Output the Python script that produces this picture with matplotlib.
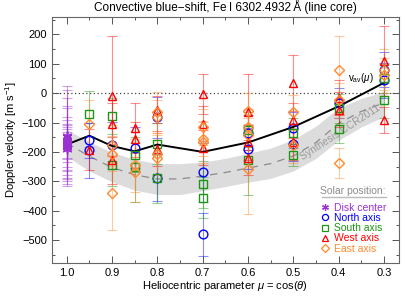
import matplotlib
matplotlib.use("Agg")
import matplotlib.pyplot as plt
from matplotlib.lines import Line2D
from matplotlib.ticker import MultipleLocator, FormatStrFormatter

plt.rcParams["font.family"] = ["Liberation Sans", "DejaVu Sans"]
plt.rcParams["mathtext.fontset"] = "custom"
plt.rcParams["mathtext.rm"] = "Liberation Sans"
plt.rcParams["mathtext.it"] = "Liberation Sans:italic"

# ---- synthesis band (CCR2011) ----
MU_SYN = [1.0, 0.95, 0.9, 0.85, 0.8, 0.75, 0.7, 0.65, 0.6, 0.55, 0.5, 0.45, 0.4, 0.35, 0.3]
SYN_MID = [-170, -215, -253, -278, -292, -292, -282, -270, -255, -240, -214, -168, -103, -62, -33]
SYN_HI = [-125, -165, -202, -225, -240, -240, -235, -222, -205, -187, -158, -112, -50, -18, 5]
SYN_LO = [-215, -265, -302, -330, -345, -345, -332, -318, -303, -290, -265, -222, -160, -115, -80]

# ---- average observed curve ----
MU_AV = [1.0, 0.95, 0.9, 0.85, 0.8, 0.7, 0.6, 0.5, 0.4, 0.3]
V_AV = [-175, -145, -180, -198, -175, -200, -168, -115, -45, 35]

# ---- observations ----
MU_DC = [1.0] * 12
V_DC = [-145, -150, -158, -165, -170, -175, -180, -185, -190, -172, -168, -178]
E_DC = [170, 160, 140, 115, 90, 60, 70, 80, 100, 50, 125, 45]

MU_N = [0.95, 0.95, 0.9, 0.85, 0.8, 0.8, 0.7, 0.7, 0.6, 0.6, 0.5, 0.5, 0.4, 0.3, 0.3]
V_N = [-160, -195, -178, -186, -82, -288, -269, -480, -135, -189, -118, -172, -34, 80, 43]
E_N = [60, 95, 80, 70, 70, 80, 100, 73, 60, 70, 55, 60, 50, 60, 60]

MU_S = [0.95, 0.9, 0.9, 0.85, 0.85, 0.8, 0.8, 0.7, 0.7, 0.6, 0.6, 0.5, 0.5, 0.4, 0.4, 0.3, 0.3]
V_S = [-70, -78, -246, -209, -252, -172, -288, -310, -356, -124, -227, -136, -210, -52, -121, 50, -25]
E_S = [77, 60, 70, 60, 120, 70, 85, 80, 70, 60, 120, 50, 38, 50, 50, 50, 60]

MU_W = [0.95, 0.9, 0.9, 0.9, 0.85, 0.85, 0.8, 0.8, 0.7, 0.7, 0.7, 0.6, 0.6, 0.6,
        0.5, 0.5, 0.5, 0.4, 0.4, 0.3, 0.3]
V_W = [-192, -10, -104, -229, -118, -157, -56, -189, -2, -104, -186, -64, -167, -220,
       33, -92, -168, -15, -57, 110, -92]
E_W = [70, 205, 70, 80, 85, 60, 45, 60, 68, 60, 60, 128, 60, 60,
       95, 60, 60, 60, 60, 120, 45]

MU_E = [0.95, 0.9, 0.9, 0.9, 0.85, 0.85, 0.8, 0.8, 0.8, 0.8, 0.7, 0.7, 0.7,
        0.6, 0.6, 0.6, 0.6, 0.5, 0.5, 0.4, 0.4, 0.4, 0.3, 0.3]
V_E = [-104, -178, -206, -340, -246, -269, -65, -82, -206, -220, -115, -155, -167,
       -61, -115, -144, -257, -65, -178, 80, -25, -238, 80, 60]
E_E = [80, 70, 60, 125, 90, 100, 70, 60, 70, 60, 60, 60, 70,
       60, 60, 60, 153, 60, 60, 115, 60, 52, 70, 60]

X_TICKS = [1.0, 0.9, 0.8, 0.7, 0.6, 0.5, 0.4, 0.3]

SERIES = [
    ("Disk center", MU_DC, V_DC, E_DC, "#9b30d0", (6, 2, 0)),
    ("North axis", MU_N, V_N, E_N, "#0000ff", "o"),
    ("South axis", MU_S, V_S, E_S, "#1e9614", "s"),
    ("West axis", MU_W, V_W, E_W, "#ff0000", "^"),
    ("East axis", MU_E, V_E, E_E, "#ff8a30", "D"),
]


def main():
    fig = plt.figure(figsize=(4.15, 2.97), dpi=100)
    ax = fig.add_axes([0.1246, 0.1145, 0.8368, 0.8293])

    ax.fill_between(MU_SYN, SYN_LO, SYN_HI, color="#dcdcdc", lw=0, zorder=1)
    ax.plot(MU_SYN, SYN_MID, color="#8c8c8c", lw=0.9, ls=(0, (6, 5)), zorder=1.5)
    ax.axhline(0, color="#444444", lw=0.9, ls=(0, (1, 2)), zorder=1.5)
    ax.text(0.397, -134, "Synthesis CCR2011", color="#9a9a9a", fontsize=7.5,
            rotation=33, ha="center", va="center", zorder=1.6)

    handles = []
    for name, mu, v, e, col, mk in SERIES:
        ax.errorbar(mu, v, yerr=e, fmt="none", ecolor=col, alpha=0.45, elinewidth=0.8,
                    capsize=3.5, capthick=0.8, zorder=2)
        ms = 7 if name == "Disk center" else (5.3 if mk == "D" else 6.3)
        ax.plot(mu, v, ls="none", marker=mk, ms=ms, mfc="none", mec=col, mew=1.0, zorder=4)
        handles.append(Line2D([], [], ls="none", marker=mk, ms=ms * 0.7, mfc="none",
                              mec=col, mew=0.9, label=name))

    ax.plot(MU_AV, V_AV, color="black", lw=1.4, zorder=3)
    ax.text(0.322, 52, r"v$_{\rm av}$($\mu$)", fontsize=7, ha="right", va="center", zorder=5)

    # legend block: grey heading with rule, then coloured entries
    ax.text(0.962, 0.292, "Solar position:", transform=ax.transAxes, color="#8c8c8c",
            fontsize=7.5, ha="right", va="center")
    ax.plot([0.778, 0.962], [0.268, 0.268], transform=ax.transAxes, color="#bbbbbb", lw=1.0)
    leg = ax.legend(handles=handles, loc="lower right", bbox_to_anchor=(0.975, 0.021),
                    frameon=False, fontsize=7.5, handlelength=0.8, handletextpad=0.4,
                    labelspacing=0.02, borderaxespad=0.2, borderpad=0.2)
    for txt, s in zip(leg.get_texts(), SERIES):
        txt.set_color(s[4])

    ax.set_xlim(1.033, 0.267)
    ax.set_ylim(-578, 260)
    ax.set_xticks(X_TICKS)
    ax.xaxis.set_major_formatter(FormatStrFormatter("%.1f"))
    ax.xaxis.set_minor_locator(MultipleLocator(0.05))
    ax.yaxis.set_major_locator(MultipleLocator(100))
    ax.yaxis.set_minor_locator(MultipleLocator(50))
    ax.tick_params(which="both", direction="in", top=True, right=True, labelsize=8,
                   colors="#555555", labelcolor="black")
    ax.tick_params(which="major", length=5, width=0.7)
    ax.tick_params(which="minor", length=2.5, width=0.7)
    for sp in ax.spines.values():
        sp.set_color("#666666")
        sp.set_linewidth(0.8)

    ax.set_title("Convective blue\u2212shift, Fe\u2009I 6302.4932\u2009\u00c5 (line core)",
                 fontsize=8.5, pad=4)
    ax.set_xlabel(r"Heliocentric parameter $\mu$ = cos($\theta$)", fontsize=8, labelpad=1)
    ax.set_ylabel(r"Doppler velocity [m s$^{-1}$]", fontsize=8, labelpad=2)

    fig.savefig("out.png", dpi=100)


if __name__ == "__main__":
    main()
